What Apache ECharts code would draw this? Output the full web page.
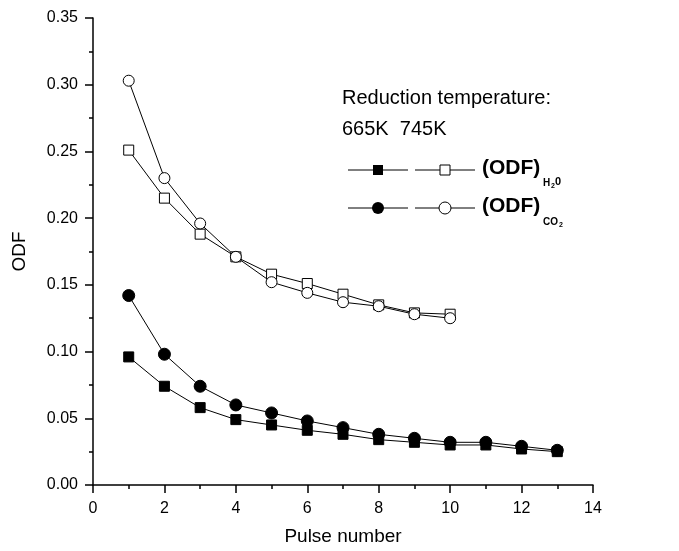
<!DOCTYPE html>
<html><head><meta charset="utf-8">
<script src="https://cdn.jsdelivr.net/npm/echarts@6/dist/echarts.min.js"></script>
<style>html,body{margin:0;padding:0;background:#fff}#c{width:679px;height:551px}</style>
</head><body><div id="c"></div>
<script>
var pulses13 = [1,2,3,4,5,6,7,8,9,10,11,12,13];
var pulses10 = [1,2,3,4,5,6,7,8,9,10];
var h2o665 = [0.096,0.074,0.058,0.049,0.045,0.041,0.038,0.034,0.032,0.030,0.030,0.027,0.025];
var co2665 = [0.142,0.098,0.074,0.060,0.054,0.048,0.043,0.038,0.035,0.032,0.032,0.029,0.026];
var h2o745 = [0.251,0.215,0.188,0.171,0.158,0.151,0.143,0.135,0.129,0.128];
var co2745 = [0.303,0.230,0.196,0.171,0.152,0.144,0.137,0.134,0.128,0.125];
var xTicks = [0,2,4,6,8,10,12,14];
var yTicks = [0.00,0.05,0.10,0.15,0.20,0.25,0.30,0.35];

function pairs(xs, ys){ return xs.map(function(x,i){return [x, ys[i]];}); }
var font = 'Liberation Sans, Arial, sans-serif';
function ser(name, xs, ys, sym, filled, size){
  return {name:name, type:'line', data:pairs(xs,ys), symbol:sym, symbolSize:size,
    lineStyle:{color:'#000', width:1}, itemStyle:{color: filled?'#000':'#fff', borderColor:'#000', borderWidth:1},
    z: filled?3:2, animation:false};
}
var chart = echarts.init(document.getElementById('c'));
var lx1 = 348, lx2 = 415, r1 = 170, r2 = 208;
function legLine(x, y){ return {type:'line', shape:{x1:x,y1:y,x2:x+60,y2:y}, style:{stroke:'#000', lineWidth:1}}; }
var axisCommon = {
  axisLine:{show:true, lineStyle:{color:'#000', width:1.5}},
  axisTick:{show:true, length:8, lineStyle:{color:'#000', width:1.5}},
  minorTick:{show:true, splitNumber:2, length:4, lineStyle:{color:'#000', width:1.5}},
  splitLine:{show:false}
};
chart.setOption({
  animation:false,
  grid:{left:93, right:86, top:18, bottom:64},
  xAxis:Object.assign({type:'value', min:xTicks[0], max:xTicks[xTicks.length-1], interval:2,
    name:'Pulse number', nameLocation:'middle', nameGap:42, nameTextStyle:{fontFamily:font, fontSize:19, color:'#000'},
    axisLabel:{fontFamily:font, fontSize:16, color:'#000', margin:16}}, axisCommon),
  yAxis:Object.assign({type:'value', min:yTicks[0], max:yTicks[yTicks.length-1], interval:0.05,
    name:'ODF', nameLocation:'middle', nameGap:64, nameTextStyle:{fontFamily:font, fontSize:19, color:'#000'},
    axisLabel:{fontFamily:font, fontSize:16, color:'#000', margin:15, formatter:function(v){return v.toFixed(2);}}}, axisCommon),
  series:[
    ser('665K H2O', pulses13, h2o665, 'rect', true, 10),
    ser('665K CO2', pulses13, co2665, 'circle', true, 12),
    ser('745K H2O', pulses10, h2o745, 'rect', false, 10),
    ser('745K CO2', pulses10, co2745, 'circle', false, 11)
  ],
  graphic:[
    {type:'text', left:342, top:88, style:{text:'Reduction temperature:', font:'20px '+font, fill:'#000'}},
    {type:'text', left:342, top:119, style:{text:'665K  745K', font:'20px '+font, fill:'#000'}},
    legLine(lx1, r1), legLine(lx2, r1), legLine(lx1, r2), legLine(lx2, r2),
    {type:'rect', shape:{x:lx1+25, y:r1-5, width:10, height:10}, style:{fill:'#000'}},
    {type:'rect', shape:{x:lx2+25, y:r1-5, width:10, height:10}, style:{fill:'#fff', stroke:'#000', lineWidth:1}},
    {type:'circle', shape:{cx:lx1+30, cy:r2, r:6}, style:{fill:'#000'}},
    {type:'circle', shape:{cx:lx2+30, cy:r2, r:6}, style:{fill:'#fff', stroke:'#000', lineWidth:1}},
    {type:'text', left:482, top:r1-12, style:{text:'(ODF)', font:'bold 21px '+font, fill:'#000'}},
    {type:'text', left:543, top:r1+8, style:{text:'H', font:'bold 10px '+font, fill:'#000'}},
    {type:'text', left:551, top:r1+13, style:{text:'2', font:'bold 7px '+font, fill:'#000'}},
    {type:'text', left:555, top:r1+6, style:{text:'0', font:'bold 11px '+font, fill:'#000'}},
    {type:'text', left:482, top:r2-12, style:{text:'(ODF)', font:'bold 21px '+font, fill:'#000'}},
    {type:'text', left:543, top:r2+9, style:{text:'CO', font:'bold 10px '+font, fill:'#000'}},
    {type:'text', left:559, top:r2+14, style:{text:'2', font:'bold 7px '+font, fill:'#000'}}
  ]
});
</script></body></html>
